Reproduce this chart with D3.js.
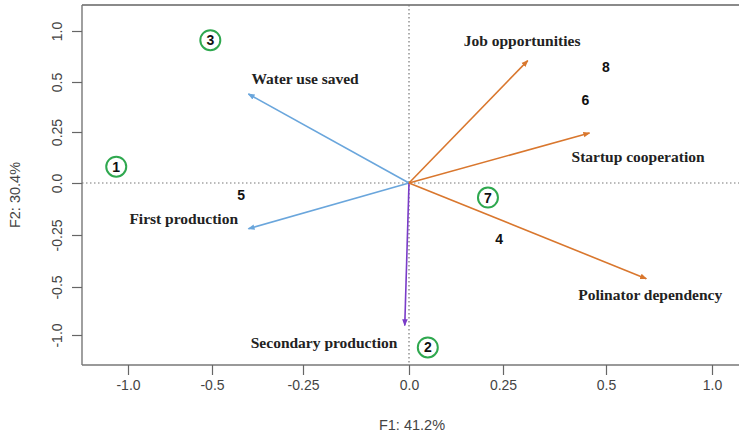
<!DOCTYPE html>
<html>
<head>
<meta charset="utf-8">
<script src="https://cdn.jsdelivr.net/npm/d3@7"></script>
<style>
  body { margin: 0; background: #fff; }
  svg { display: block; }
</style>
</head>
<body>
<div id="chart"></div>
<script>
// tick values (as labelled in the original, unevenly spaced on the page)
let xTickVals = [-1, -0.5, -0.25, 0, 0.25, 0.5, 1]
let xTickLabels = ["-1.0", "-0.5", "-0.25", "0.0", "0.25", "0.5", "1.0"]
let yTickVals = [1, 0.5, 0.25, 0, -0.25, -0.5, -1]
let yTickLabels = ["1.0", "0.5", "0.25", "0.0", "-0.25", "-0.5", "-1.0"]

// variable loadings (arrows)
let varNames = ["Water use saved", "First production", "Secondary production", "Job opportunities", "Startup cooperation", "Polinator dependency"]
let varF1 = [-0.40, -0.40, -0.01, 0.31, 0.46, 0.69]
let varF2 = [0.44, -0.22, -0.90, 0.71, 0.245, -0.46]
let varGroup = ["blue", "blue", "purple", "orange", "orange", "orange"]

// observations
let obsNames = ["1", "2", "3", "4", "5", "6", "7", "8"]
let obsF1 = [-1.07, 0.05, -0.51, 0.24, -0.42, 0.45, 0.21, 0.50]
let obsF2 = [0.08, -1.13, 0.91, -0.27, -0.06, 0.41, -0.07, 0.65]
let obsCircled = [true, true, true, false, false, false, true, false]

let groupColors = {blue: "#6aa6dc", purple: "#7a3cc8", orange: "#d9772e"}

let W = 739, H = 434
let frame = {left: 82, top: 5, right: 739, bottom: 365}
let sans = "Liberation Sans, Arial, sans-serif"
let serif = "Liberation Serif, Times New Roman, serif"

let svg = d3.select("#chart").append("svg")
    .attr("width", W)
    .attr("height", H)

// piecewise scales: the printed tick labels are not linearly spaced
let x = d3.scaleLinear().domain(xTickVals).range([128, 212, 303, 409, 503, 606, 712])
let y = d3.scaleLinear().domain(yTickVals).range([31, 82, 132, 183, 235, 287, 335])

// markers
let defs = svg.append("defs")
Object.keys(groupColors).forEach(k => {
    defs.append("marker")
        .attr("id", "arrow-" + k)
        .attr("viewBox", "0 -4 8 8")
        .attr("refX", 7)
        .attr("refY", 0)
        .attr("markerWidth", 7)
        .attr("markerHeight", 7)
        .attr("markerUnits", "userSpaceOnUse")
        .attr("orient", "auto")
        .append("path")
        .attr("d", "M0,-3.2L8,0L0,3.2Z")
        .attr("fill", groupColors[k])
})

// frame
svg.append("line").attr("x1", frame.left).attr("x2", frame.right).attr("y1", frame.top).attr("y2", frame.top)
    .attr("stroke", "#8a8a8a").attr("stroke-width", 2.2)
svg.append("line").attr("x1", frame.left).attr("x2", frame.right).attr("y1", frame.bottom).attr("y2", frame.bottom)
    .attr("stroke", "#777").attr("stroke-width", 1.4)
svg.append("line").attr("x1", frame.left).attr("x2", frame.left).attr("y1", frame.top).attr("y2", frame.bottom)
    .attr("stroke", "#777").attr("stroke-width", 1.4)

// axes
let xAxis = d3.axisBottom(x).tickValues(xTickVals).tickFormat((d, i) => xTickLabels[i]).tickSize(10).tickPadding(5)
let gx = svg.append("g").attr("transform", `translate(0, ${frame.bottom})`).call(xAxis)
gx.select(".domain").remove()
gx.selectAll(".tick line").attr("stroke", "#666").attr("stroke-width", 1.2)
gx.selectAll(".tick text").attr("fill", "#444").attr("font-family", sans).attr("font-size", 14)

let yAxis = d3.axisLeft(y).tickValues(yTickVals).tickFormat((d, i) => yTickLabels[i]).tickSize(10).tickPadding(4)
let gy = svg.append("g").attr("transform", `translate(${frame.left}, 0)`).call(yAxis)
gy.select(".domain").remove()
gy.selectAll(".tick line").attr("stroke", "#666").attr("stroke-width", 1.2)
gy.selectAll(".tick text")
    .attr("fill", "#444").attr("font-family", sans).attr("font-size", 14)
    .attr("x", null).attr("dy", null)
    .attr("text-anchor", "middle")
    .attr("transform", "translate(-25, 0) rotate(-90)")
    .attr("dominant-baseline", "central")

// axis titles
svg.append("text").attr("x", 412).attr("y", 430)
    .attr("text-anchor", "middle").attr("fill", "#444")
    .attr("font-family", sans).attr("font-size", 14.5)
    .text("F1: 41.2%")
svg.append("text")
    .attr("transform", "translate(20, 195) rotate(-90)")
    .attr("text-anchor", "middle").attr("fill", "#444")
    .attr("font-family", sans).attr("font-size", 14.5)
    .text("F2: 30.4%")

// zero reference lines
svg.append("line").attr("x1", frame.left).attr("x2", frame.right).attr("y1", y(0)).attr("y2", y(0))
    .attr("stroke", "#777").attr("stroke-dasharray", "1.5,2.5").attr("stroke-width", 1.2)
svg.append("line").attr("x1", x(0)).attr("x2", x(0)).attr("y1", frame.top).attr("y2", frame.bottom)
    .attr("stroke", "#777").attr("stroke-dasharray", "1.5,2.5").attr("stroke-width", 1.2)

// arrows
let vars = varNames.map((n, i) => ({name: n, f1: varF1[i], f2: varF2[i], g: varGroup[i]}))
svg.selectAll(".var-arrow")
    .data(vars)
    .enter()
    .append("line")
    .attr("class", "var-arrow")
    .attr("x1", x(0)).attr("y1", y(0))
    .attr("x2", d => x(d.f1)).attr("y2", d => y(d.f2))
    .attr("stroke", d => groupColors[d.g])
    .attr("stroke-width", 1.6)
    .attr("marker-end", d => `url(#arrow-${d.g})`)

// variable labels, placed relative to arrow tips
let labelOffsets = [[3, -16], [-119, -10], [-154, 17], [-64, -20], [-18, 23], [-68, 16]]
svg.selectAll(".var-label")
    .data(vars)
    .enter()
    .append("text")
    .attr("class", "var-label")
    .attr("x", (d, i) => x(d.f1) + labelOffsets[i][0])
    .attr("y", (d, i) => y(d.f2) + labelOffsets[i][1])
    .attr("dominant-baseline", "central")
    .attr("font-family", serif)
    .attr("font-weight", "bold")
    .attr("font-size", 15.5)
    .attr("fill", "#222")
    .text(d => d.name)

// observations
let obs = obsNames.map((n, i) => ({name: n, f1: obsF1[i], f2: obsF2[i], circled: obsCircled[i]}))
svg.selectAll(".obs-ring")
    .data(obs.filter(d => d.circled))
    .enter()
    .append("circle")
    .attr("class", "obs-ring")
    .attr("cx", d => x(d.f1)).attr("cy", d => y(d.f2))
    .attr("r", 10)
    .attr("fill", "#fff")
    .attr("stroke", "#2fa84f")
    .attr("stroke-width", 2)

svg.selectAll(".obs-label")
    .data(obs)
    .enter()
    .append("text")
    .attr("class", "obs-label")
    .attr("x", d => x(d.f1)).attr("y", d => y(d.f2))
    .attr("text-anchor", "middle")
    .attr("dominant-baseline", "central")
    .attr("font-family", sans)
    .attr("font-weight", "bold")
    .attr("font-size", 14)
    .attr("fill", "#111")
    .text(d => d.name)
</script>
</body>
</html>
